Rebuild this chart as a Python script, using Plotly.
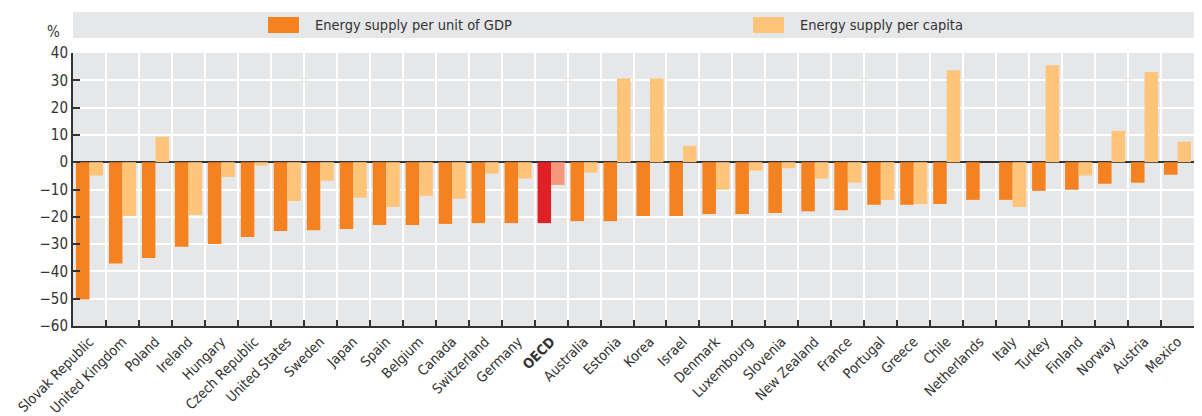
import plotly.graph_objects as go

countries = ["Slovak Republic", "United Kingdom", "Poland", "Ireland", "Hungary",
             "Czech Republic", "United States", "Sweden", "Japan", "Spain", "Belgium",
             "Canada", "Switzerland", "Germany", "OECD", "Australia", "Estonia", "Korea",
             "Israel", "Denmark", "Luxembourg", "Slovenia", "New Zealand", "France",
             "Portugal", "Greece", "Chile", "Netherlands", "Italy", "Turkey", "Finland",
             "Norway", "Austria", "Mexico"]
per_gdp = [-50.3, -37.1, -35.1, -31.0, -30.0, -27.4, -25.2, -24.9, -24.5, -23.0, -23.0,
           -22.6, -22.3, -22.3, -22.3, -21.6, -21.6, -19.7, -19.7, -19.0, -19.0, -18.6,
           -18.0, -17.6, -15.6, -15.6, -15.3, -13.8, -13.8, -10.5, -10.1, -7.9, -7.5, -4.6]
per_capita = [-4.9, -19.7, 9.3, -19.3, -5.4, -1.2, -14.2, -6.8, -13.0, -16.4, -12.3,
              -13.4, -4.2, -6.0, -8.3, -3.8, 30.7, 30.7, 6.0, -10.1, -3.1, -2.2,
              -6.0, -7.5, -13.8, -15.3, 33.7, 0.0, -16.4, 35.5, -4.9, 11.5, 33.0, 7.5]
y_ticks = [40, 30, 20, 10, 0, -10, -20, -30, -40, -50, -60]

FONT = "DejaVu Sans Condensed, Liberation Sans Narrow, sans-serif"
TXT = "#333333"
DARK, LIGHT = "#F58220", "#FDC47A"
OECD_DARK, OECD_LIGHT = "#E01F26", "#F5977B"

dark_cols = [OECD_DARK if c == "OECD" else DARK for c in countries]
light_cols = [OECD_LIGHT if c == "OECD" else LIGHT for c in countries]
tick_text = ["<b>OECD</b>" if c == "OECD" else c for c in countries]

fig = go.Figure()
fig.add_trace(go.Bar(x=countries, y=per_gdp, marker=dict(color=dark_cols, line_width=0),
                     name="Energy supply per unit of GDP", showlegend=False))
fig.add_trace(go.Bar(x=countries, y=per_capita, marker=dict(color=light_cols, line_width=0),
                     name="Energy supply per capita", showlegend=False))

# page body has an 8px margin, so the figure starts at screen pixel 8
OFF = 8
W, H = 1202 - 2 * OFF, 416 - OFF
L, R, T = 73 - OFF, 0, 53 - OFF
B = H - (326 - OFF)
pw, ph = W - L - R, H - T - B


def px_x(x):
    return (x - OFF - L) / pw


def px_y(y):
    return (H - B - (y - OFF)) / ph


shapes = [
    dict(type="rect", xref="paper", yref="paper", x0=0, x1=1, y0=px_y(38), y1=px_y(12),
         fillcolor="#E6E7E8", line_width=0, layer="below"),
    dict(type="rect", xref="paper", yref="paper", x0=px_x(268), x1=px_x(299), y0=px_y(33), y1=px_y(17),
         fillcolor=DARK, line_width=0),
    dict(type="rect", xref="paper", yref="paper", x0=px_x(753), x1=px_x(784), y0=px_y(33), y1=px_y(17),
         fillcolor=LIGHT, line_width=0),
]
annotations = [
    dict(text="Energy supply per unit of GDP", xref="paper", yref="paper", x=px_x(313), y=px_y(25),
         xanchor="left", yanchor="middle", showarrow=False, font=dict(size=14.5, color=TXT, family=FONT)),
    dict(text="Energy supply per capita", xref="paper", yref="paper", x=px_x(798), y=px_y(25),
         xanchor="left", yanchor="middle", showarrow=False, font=dict(size=14.5, color=TXT, family=FONT)),
    dict(text="%", xref="paper", yref="paper", x=px_x(62), y=px_y(32),
         xanchor="right", yanchor="middle", showarrow=False, font=dict(size=15, color=TXT, family=FONT)),
]

fig.update_layout(
    width=W, height=H,
    margin=dict(l=L, r=R, t=T, b=B, autoexpand=False),
    paper_bgcolor="white", plot_bgcolor="#E6E7E8",
    barmode="group", bargap=0.18, bargroupgap=0,
    font=dict(family=FONT, color=TXT, size=14),
    shapes=shapes, annotations=annotations,
    xaxis=dict(tickvals=countries, ticktext=tick_text, tickangle=-45, tickson="boundaries",
               showgrid=True, gridcolor="white", gridwidth=2,
               showline=True, linecolor=TXT, linewidth=2,
               ticks="inside", ticklen=6, tickcolor=TXT, tickwidth=1.5,
               tickfont=dict(size=14, family=FONT, color=TXT), range=[-0.5, len(countries) - 0.5]),
    yaxis=dict(range=[-60, 40], tickvals=y_ticks, showgrid=True, gridcolor="white", gridwidth=2,
               zeroline=True, zerolinecolor=TXT, zerolinewidth=2,
               showline=True, linecolor=TXT, linewidth=2,
               ticks="inside", ticklen=7, tickcolor=TXT, tickwidth=1.5,
               tickfont=dict(size=15, family=FONT, color=TXT)),
)

fig.write_html("out.html")
